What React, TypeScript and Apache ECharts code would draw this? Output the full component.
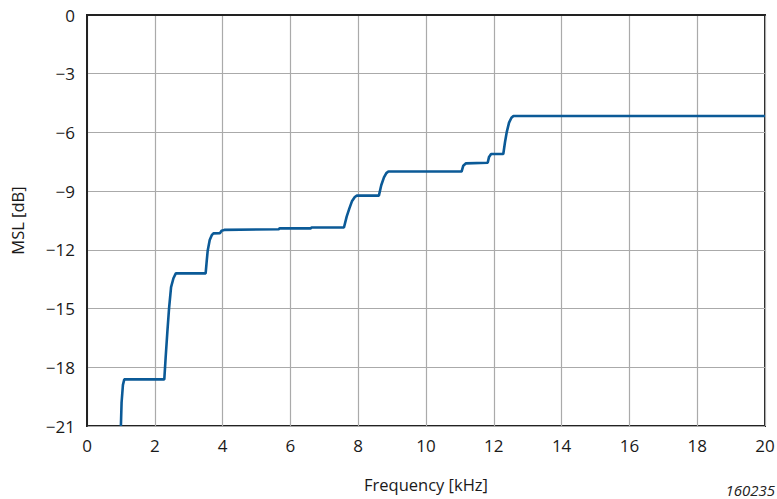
import React, { useEffect, useRef } from "react";
import * as echarts from "echarts";

const freqKHz = [
  1.0, 1.02, 1.06, 1.1, 2.28, 2.32, 2.37, 2.42, 2.48, 2.55, 2.62, 3.5, 3.53, 3.56, 3.62, 3.68, 3.73,
  3.92, 3.97, 4.05, 5.66, 5.68, 6.6, 6.62, 7.58, 7.66, 7.74, 7.82, 7.9, 7.96, 8.61, 8.68, 8.76, 8.83,
  8.89, 11.05, 11.1, 11.18, 11.82, 11.86, 11.92, 12.28, 12.33, 12.38, 12.45, 12.52, 12.58, 20,
];
const mslDb = [
  -21, -19.8, -18.9, -18.62, -18.62, -17.5, -16.2, -15.0, -13.9, -13.45, -13.2, -13.2, -12.6, -12.05,
  -11.5, -11.25, -11.16, -11.15, -11.02, -10.98, -10.95, -10.9, -10.9, -10.86, -10.86, -10.3, -9.88,
  -9.5, -9.3, -9.23, -9.23, -8.7, -8.3, -8.08, -8.0, -8.0, -7.7, -7.58, -7.55, -7.25, -7.1, -7.1, -6.5,
  -6.0, -5.5, -5.25, -5.16, -5.16,
];

const xTitle = "Frequency [kHz]";
const yTitle = "MSL [dB]";
const figureId = "160235";

const FONT = "'Open Sans', 'Noto Sans', sans-serif";
const TXT = "#1a1a1a";

export default function App() {
  const ref = useRef<HTMLDivElement>(null);
  useEffect(() => {
    if (!ref.current) return;
    const chart = echarts.init(ref.current, undefined, { renderer: "svg" });
    const data = freqKHz.map((f, i) => [f, mslDb[i]]);
    chart.setOption({
      animation: false,
      backgroundColor: "#ffffff",
      grid: {
        left: 87,
        top: 15,
        right: 12,
        bottom: 73,
        show: true,
        borderColor: "#222",
        borderWidth: 2,
        containLabel: false,
        outerBoundsMode: "none",
      },
      xAxis: {
        type: "value",
        min: 0,
        max: 20,
        interval: 2,
        name: xTitle,
        nameLocation: "middle",
        nameGap: 50,
        nameTextStyle: { fontFamily: FONT, fontSize: 16.5, color: TXT, fontWeight: 500 },
        axisLine: { show: true, lineStyle: { color: "#222", width: 2 } },
        axisTick: { show: false },
        axisLabel: { fontFamily: FONT, fontSize: 17, color: TXT, fontWeight: 500, margin: 11 },
        splitLine: { show: true, lineStyle: { color: "#aaaaaa", width: 1.2 } },
      },
      yAxis: {
        type: "value",
        min: -21,
        max: 0,
        interval: 3,
        name: yTitle,
        nameLocation: "middle",
        nameGap: 61,
        nameTextStyle: { fontFamily: FONT, fontSize: 16.5, color: TXT, fontWeight: 500 },
        axisLine: { show: true, lineStyle: { color: "#222", width: 2 } },
        axisTick: { show: false },
        axisLabel: {
          fontFamily: FONT,
          fontSize: 17,
          color: TXT,
          fontWeight: 500,
          margin: 12,
          formatter: (v: number) => (v < 0 ? "\u2212" + Math.abs(v) : String(v)),
        },
        splitLine: { show: true, lineStyle: { color: "#aaaaaa", width: 1.2 } },
      },
      graphic: [
        {
          type: "text",
          right: 2,
          top: 482,
          style: { text: figureId, fontFamily: FONT, fontSize: 15, fontStyle: "italic", fill: "#222" },
        },
      ],
      series: [
        {
          type: "line",
          data,
          showSymbol: false,
          smooth: false,
          lineStyle: { color: "#0b5a97", width: 2.6 },
          clip: true,
        },
      ],
    });
    return () => chart.dispose();
  }, []);
  return (
    <div
      ref={ref}
      style={{ position: "fixed", left: 0, top: 0, width: 777, height: 499, background: "#fff" }}
    />
  );
}
